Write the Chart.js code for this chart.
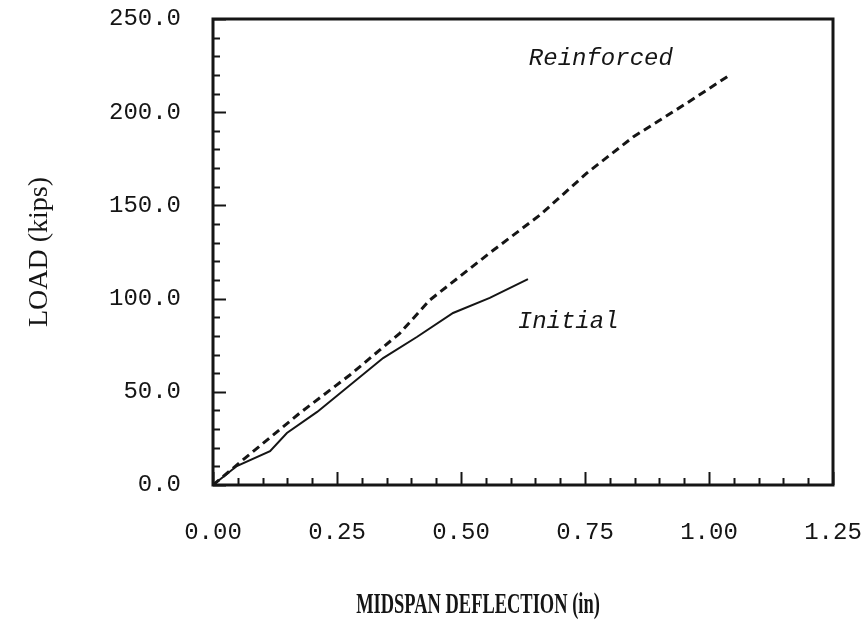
<!DOCTYPE html>
<html lang="en">
<head>
  <meta charset="UTF-8">
  <title>Load vs Midspan Deflection</title>
  <script src="https://cdn.jsdelivr.net/npm/chart.js"></script>
  <style>
    body { margin: 0; background: #fff; }
    #wrap { width: 868px; height: 629px; }
  </style>
</head>
<body>
  <div id="wrap"><canvas id="loadChart"></canvas></div>

  <script>
    // values
    const initialX = [0, 0.048, 0.115, 0.149, 0.21, 0.343, 0.411, 0.484, 0.558, 0.635];
    const initialY = [0, 10.2, 18.2, 27.9, 39.2, 68.1, 79.4, 92.3, 100.4, 110.5];

    const reinforcedX = [0, 0.06, 0.175, 0.276, 0.377, 0.437, 0.558, 0.659, 0.754, 0.847, 0.956, 1.042];
    const reinforcedY = [0, 13.4, 38.6, 59, 81.5, 99.2, 124.5, 144.8, 167.4, 186.7, 205, 220];

    const xTicks = [0, 0.25, 0.5, 0.75, 1.0, 1.25];
    const yTicks = [0, 50, 100, 150, 200, 250];

    // curve labels, in data units
    const curveLabels = [
      { text: 'Reinforced', x: 0.782, y: 229 },
      { text: 'Initial', x: 0.716, y: 87.5 }
    ];

    const toPoints = (xs, ys) => xs.map((x, i) => ({ x: x, y: ys[i] }));
    const ink = '#151515';

    // box, inward ticks, curve names and the x title
    const framePlugin = {
      id: 'frame',
      afterDraw(chart) {
        const c = chart.ctx;
        const a = chart.chartArea;
        const xs = chart.scales.x;
        const ys = chart.scales.y;
        c.save();
        c.strokeStyle = ink;
        c.lineWidth = 2;
        // minor / major ticks along the bottom
        for (let v = 0; v <= 1.25001; v += 0.05) {
          const px = Math.round(xs.getPixelForValue(v)) + 0.5;
          const major = Math.abs(v / 0.25 - Math.round(v / 0.25)) < 1e-6;
          c.beginPath();
          c.moveTo(px, a.bottom);
          c.lineTo(px, a.bottom - (major ? 13 : 7));
          c.stroke();
        }
        // ticks along the left side
        for (let v = 0; v <= 250; v += 10) {
          const py = Math.round(ys.getPixelForValue(v)) + 0.5;
          c.beginPath();
          c.moveTo(a.left, py);
          c.lineTo(a.left + (v % 50 === 0 ? 13 : 7), py);
          c.stroke();
        }
        c.lineWidth = 3;
        c.strokeRect(a.left, a.top, a.right - a.left, a.bottom - a.top);

        c.fillStyle = ink;
        c.font = 'italic 24px "Liberation Mono"';
        c.textAlign = 'center';
        c.textBaseline = 'middle';
        curveLabels.forEach(l => {
          c.fillText(l.text, xs.getPixelForValue(l.x), ys.getPixelForValue(l.y));
        });

        // condensed serif title under the axis
        c.translate(478, 605);
        c.scale(0.615, 1);
        c.font = 'bold 30px "Liberation Serif"';
        c.fillText('MIDSPAN DEFLECTION (in)', 0, 0);
        c.restore();
      }
    };

    const ctx = document.getElementById('loadChart').getContext('2d');
    new Chart(ctx, {
      type: 'scatter',
      data: {
        datasets: [
          {
            label: 'Initial',
            data: toPoints(initialX, initialY),
            showLine: true,
            borderColor: ink,
            borderWidth: 2,
            pointRadius: 0,
            tension: 0
          },
          {
            label: 'Reinforced',
            data: toPoints(reinforcedX, reinforcedY),
            showLine: true,
            borderColor: ink,
            borderWidth: 3,
            borderDash: [8, 5],
            pointRadius: 0,
            tension: 0
          }
        ]
      },
      options: {
        responsive: true,
        maintainAspectRatio: false,
        animation: false,
        layout: { padding: { top: 19, right: 35, left: 0, bottom: 0 } },
        plugins: {
          legend: { display: false },
          tooltip: { enabled: false }
        },
        scales: {
          x: {
            type: 'linear',
            min: 0,
            max: 1.25,
            afterFit: s => {
              s.height = 144;
              s.paddingLeft = 0;
              s.paddingRight = 0;
            },
            afterBuildTicks: s => { s.ticks = xTicks.map(v => ({ value: v })); },
            grid: { display: false },
            border: { display: false },
            ticks: {
              padding: 25,
              color: ink,
              font: { family: 'Liberation Mono', size: 24 },
              callback: v => v.toFixed(2)
            }
          },
          y: {
            min: 0,
            max: 250,
            afterFit: s => {
              s.width = 213;
              s.paddingTop = 0;
              s.paddingBottom = 0;
            },
            afterBuildTicks: s => { s.ticks = yTicks.map(v => ({ value: v })); },
            grid: { display: false },
            border: { display: false },
            ticks: {
              padding: 24,
              color: ink,
              font: { family: 'Liberation Mono', size: 24 },
              callback: v => v.toFixed(1)
            },
            title: {
              display: true,
              text: 'LOAD (kips)',
              color: ink,
              font: { family: 'Liberation Serif', size: 28 },
              padding: { top: 23, bottom: 0 }
            }
          }
        }
      },
      plugins: [framePlugin]
    });
  </script>
</body>
</html>
